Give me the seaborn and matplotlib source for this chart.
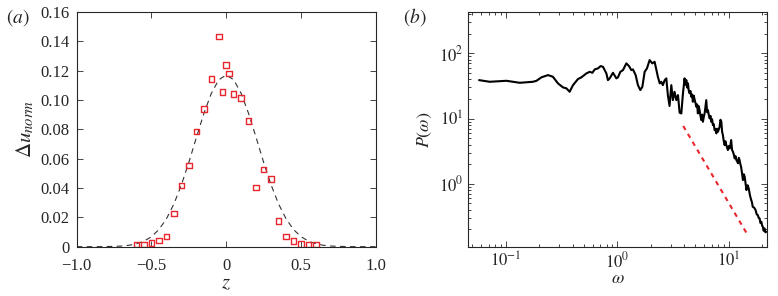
import numpy as np
import pandas as pd
import seaborn as sns
from matplotlib import pyplot as plt
from matplotlib.ticker import FixedLocator, LogLocator, NullFormatter

# panel (a): measured points
z_pts = [-0.60, -0.55, -0.50, -0.45, -0.40, -0.35, -0.30, -0.25, -0.20, -0.15,
         -0.10, -0.05, -0.025, 0.0, 0.02, 0.05, 0.10, 0.15, 0.20, 0.25,
         0.30, 0.35, 0.40, 0.45, 0.50, 0.55, 0.60]
du_pts = [0.0016, 0.0016, 0.0027, 0.0043, 0.0070, 0.0227, 0.0418, 0.0554, 0.0785, 0.0937,
          0.1144, 0.1432, 0.1053, 0.1237, 0.1180, 0.1042, 0.1014, 0.0858, 0.0404, 0.0527,
          0.0461, 0.0175, 0.0068, 0.0039, 0.0020, 0.0014, 0.0014]

z_fit = [-1.0, -0.95, -0.9, -0.85, -0.8, -0.75, -0.7, -0.65, -0.6, -0.55, -0.5, -0.45,
         -0.4, -0.35, -0.3, -0.25, -0.2, -0.15, -0.1, -0.05, 0.0, 0.05, 0.1, 0.15, 0.2,
         0.25, 0.3, 0.35, 0.4, 0.45, 0.5, 0.55, 0.6, 0.65, 0.7, 0.75, 0.8, 0.85, 0.9,
         0.95, 1.0]
du_fit = [0.0, 0.0, 0.0, 0.00003, 0.0001, 0.0002, 0.00045, 0.00096, 0.0020, 0.0038,
          0.0068, 0.0117, 0.0190, 0.0291, 0.0421, 0.0575, 0.0743, 0.0906, 0.1044, 0.1137,
          0.1170, 0.1137, 0.1044, 0.0906, 0.0743, 0.0575, 0.0421, 0.0291, 0.0190, 0.0117,
          0.0068, 0.0038, 0.0020, 0.00096, 0.00045, 0.0002, 0.0001, 0.00003, 0.0, 0.0, 0.0]

# panel (b): power spectrum
omega = [0.0574, 0.0716, 0.101, 0.116, 0.133, 0.175, 0.188, 0.208, 0.239, 0.264,
         0.293, 0.325, 0.349, 0.373, 0.400, 0.443, 0.475, 0.527, 0.565, 0.597,
         0.626, 0.670, 0.708, 0.743, 0.797, 0.823, 0.853, 0.913, 0.980, 1.012,
         1.064, 1.123, 1.204, 1.271, 1.335, 1.380, 1.459, 1.530, 1.608, 1.676,
         1.758, 1.843, 1.949, 2.06, 2.16, 2.24, 2.31, 2.40, 2.48, 2.56,
         2.66, 2.75, 2.84, 2.94, 3.05, 3.15, 3.26, 3.38, 3.50, 3.62,
         3.75, 3.88,
         4.01, 4.08, 4.16, 4.23, 4.30, 4.37, 4.45, 4.53, 4.61, 4.68,
         4.76, 4.85, 4.93, 5.02, 5.11, 5.20, 5.28, 5.37, 5.47, 5.57,
         5.67, 5.76, 5.86, 5.96, 6.07, 6.17, 6.28, 6.39, 6.50, 6.61,
         6.73, 6.85, 6.97, 7.08, 7.20, 7.33, 7.46, 7.60, 7.73, 7.86,
         7.99, 8.13, 8.27, 8.42, 8.57, 8.71, 8.85, 9.00, 9.17, 9.33,
         9.50, 9.66, 9.82, 10.0, 10.2, 10.35, 10.5, 10.7, 10.9, 11.1,
         11.3, 11.5, 11.7, 11.9, 12.1, 12.3, 12.5, 12.7, 12.9, 13.15,
         13.4, 13.65, 13.9, 14.15, 14.4, 14.75, 15.1, 15.5, 15.9, 16.15,
         16.4, 16.9, 17.4, 17.8, 18.2, 18.55, 18.9, 19.25, 19.6, 19.9,
         20.2, 20.55, 20.9, 21.3, 21.7]
power = [38.9, 36.7, 38.0, 36.7, 35.4, 36.7, 38.0, 42.9, 46.5, 43.8,
         34.7, 30.1, 29.1, 25.8, 32.6, 40.4, 42.9, 49.3, 52.2, 50.4,
         56.8, 58.9, 63.9, 62.3, 49.3, 38.9, 41.4, 50.4, 41.4, 42.9,
         52.2, 55.4, 70.3, 63.9, 55.4, 56.8, 46.5, 32.6, 27.4, 30.7,
         52.2, 58.9, 78.9, 70.3, 74.3, 55.4, 43.8, 34.7, 36.7, 32.6,
         38.9, 41.4, 22.9, 15.6, 32.6, 19.2, 25.8, 19.2, 22.9, 12.3,
         12.0, 24.4,
         41.4, 33.0, 38.9, 30.0, 34.7, 27.0, 24.4, 26.5, 21.6, 23.5,
         18.1, 22.5, 19.7, 17.5, 15.2, 16.5, 12.0, 15.5, 13.5, 11.0,
         9.48, 11.5, 8.93, 10.5, 12.0, 15.0, 19.2, 12.5, 13.5, 11.5,
         10.07, 11.0, 8.93, 9.8, 7.95, 8.2, 6.66, 6.9, 5.93, 7.0,
         6.28, 6.8, 7.48, 9.6, 8.93, 6.3, 5.58, 4.6, 3.92, 4.5,
         3.92, 3.6, 3.29, 3.8, 3.49, 3.9, 4.68, 3.3, 3.10, 2.8,
         2.45, 2.65, 2.31, 2.2, 2.06, 2.5, 2.31, 2.0, 1.82, 1.45,
         1.14, 1.4, 1.27, 1.0, 0.80, 0.95, 0.85, 0.66, 0.562, 0.52,
         0.444, 0.43, 0.395, 0.34, 0.331, 0.30, 0.295, 0.25, 0.261, 0.23,
         0.219, 0.19, 0.207, 0.18, 0.184]

# panel (b): red dashed slope guide
omega_slope = [3.9, 15.0]
power_slope = [7.7, 0.157]

sns.set_style("ticks")
plt.rcParams["font.family"] = ["Liberation Serif", "DejaVu Serif"]
plt.rcParams["mathtext.fontset"] = "stix"
plt.rcParams["xtick.direction"] = "in"
plt.rcParams["ytick.direction"] = "in"

fig = plt.figure(figsize=(7.78, 2.96), dpi=100)
ax1 = fig.add_axes([0.0986, 0.1666, 0.3844, 0.7934])
ax2 = fig.add_axes([0.602, 0.1645, 0.3835, 0.7955])

red = "#e8262d"
pts = pd.DataFrame({"z": z_pts, "du": du_pts})
fit = pd.DataFrame({"z": z_fit, "du": du_fit})
sns.lineplot(data=fit, x="z", y="du", ax=ax1, color="#333333", lw=0.8,
             linestyle=(0, (5, 4)), sort=False)
sns.scatterplot(data=pts, x="z", y="du", ax=ax1, marker="s", s=16,
                facecolor="none", edgecolor=red, linewidth=1.0, zorder=3)
ax1.set_xlim(-1, 1)
ax1.set_ylim(0, 0.16)
ax1.set_xticks([-1.0, -0.5, 0, 0.5, 1.0])
ax1.set_xticklabels(["\u22121.0", "\u22120.5", "0", "0.5", "1.0"])
ax1.set_yticks(np.arange(0, 0.161, 0.02))
ax1.set_yticklabels(["0", "0.02", "0.04", "0.06", "0.08", "0.10", "0.12", "0.14", "0.16"])
ax1.set_xlabel(r"$z$", fontsize=15, labelpad=0)
ax1.set_ylabel(r"$\Delta u_{norm}$", fontsize=15, labelpad=3)
ax1.tick_params(labelsize=12, top=True, right=True, length=4, width=0.6)
ax1.tick_params(axis="x", pad=8)
ax1.tick_params(axis="y", pad=5)

spec = pd.DataFrame({"omega": omega, "P": power})
sns.lineplot(data=spec, x="omega", y="P", ax=ax2, color="black", lw=1.5, sort=False)
slope = pd.DataFrame({"omega": omega_slope, "P": power_slope})
sns.lineplot(data=slope, x="omega", y="P", ax=ax2, color=red, lw=1.5,
             linestyle=(0, (2.2, 2.2)), sort=False)
ax2.set_xscale("log")
ax2.set_yscale("log")
ax2.set_xlim(0.046, 21.9)
ax2.set_ylim(0.106, 434)
ax2.xaxis.set_major_locator(FixedLocator([0.1, 1, 10]))
ax2.yaxis.set_major_locator(FixedLocator([1, 10, 100]))
ax2.xaxis.set_minor_locator(LogLocator(base=10, subs=np.arange(2, 10)))
ax2.yaxis.set_minor_locator(LogLocator(base=10, subs=np.arange(2, 10)))
ax2.xaxis.set_minor_formatter(NullFormatter())
ax2.yaxis.set_minor_formatter(NullFormatter())
ax2.set_xticklabels([r"$10^{-1}$", r"$10^{0}$", r"$10^{1}$"])
ax2.set_yticklabels([r"$10^{0}$", r"$10^{1}$", r"$10^{2}$"])
ax2.set_xlabel(r"$\omega$", fontsize=13, labelpad=-1)
ax2.set_ylabel(r"$P(\omega)$", fontsize=13, labelpad=4)
ax2.tick_params(which="both", labelsize=12, top=True, right=True, width=0.6)
ax2.tick_params(which="major", length=4)
ax2.tick_params(which="minor", length=2)
ax2.tick_params(axis="x", which="both", pad=3)

for ax in (ax1, ax2):
    for sp in ax.spines.values():
        sp.set_linewidth(0.8)

fig.text(0.008, 0.925, r"$(a)$", fontsize=14)
fig.text(0.518, 0.925, r"$(b)$", fontsize=14)

fig.savefig("out.png", dpi=100)
